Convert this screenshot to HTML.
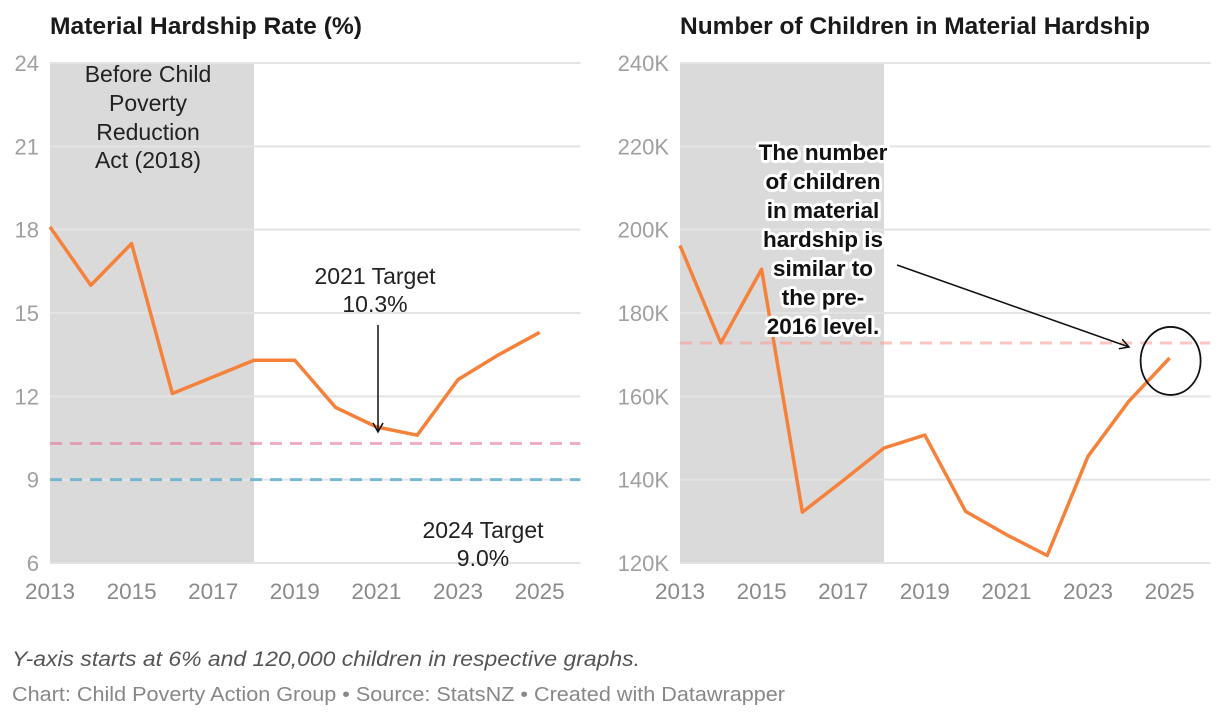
<!DOCTYPE html>
<html><head><meta charset="utf-8"><style>
body{margin:0;background:#fff;width:1220px;height:718px;overflow:hidden;font-family:"Liberation Sans",Arial,sans-serif}
svg text{font-family:"Liberation Sans",Arial,sans-serif}
</style></head><body>
<svg id="c" width="1220" height="718">
<text x="50" y="34" font-size="24" font-weight="bold" fill="#1a1a1a" textLength="312" lengthAdjust="spacingAndGlyphs">Material Hardship Rate (%)</text>
<text x="680" y="34" font-size="24" font-weight="bold" fill="#1a1a1a" textLength="470" lengthAdjust="spacingAndGlyphs">Number of Children in Material Hardship</text>
<text x="12" y="666" font-size="21" font-style="italic" fill="#555" textLength="628" lengthAdjust="spacingAndGlyphs">Y-axis starts at 6% and 120,000 children in respective graphs.</text>
<text x="12" y="701" font-size="20" fill="#888" textLength="773" lengthAdjust="spacingAndGlyphs">Chart: Child Poverty Action Group • Source: StatsNZ • Created with Datawrapper</text>
</svg>
<script>
const years=[2013,2014,2015,2016,2017,2018,2019,2020,2021,2022,2023,2024,2025];
const rateValues=[18.1,16.0,17.5,12.1,12.7,13.3,13.3,11.6,10.9,10.6,12.6,13.5,14.3];
const childValues=[196.2,172.8,190.5,132.2,139.8,147.6,150.7,132.4,126.8,121.8,145.6,158.8,169.2];
const rateTicks=[6,9,12,15,18,21,24];
const childTicks=[120,140,160,180,200,220,240];
const xTicks=[2013,2015,2017,2019,2021,2023,2025];
const target2021=[10.3];
const target2024=[9.0];
const pre2016Level=[172.8];

const svg=document.getElementById('c');
const NS='http://www.w3.org/2000/svg';
function mk(tag,attrs,txt){const e=document.createElementNS(NS,tag);for(const k in attrs)e.setAttribute(k,attrs[k]);if(txt!==undefined)e.textContent=txt;svg.appendChild(e);return e;}
function panel(x0,ymin,ymax,ticks,fmt,vals,pre){
  const xs=y=>x0+(y-2013)*40.8;
  const ys=v=>563-(v-ymin)/(ymax-ymin)*500;
  let e=mk('rect',{x:x0,y:63,width:xs(2018)-x0,height:500,fill:'#dadada'});
  
  
  ticks.forEach(t=>{
    let g=mk('line',{x1:x0,x2:xs(2026),y1:ys(t),y2:ys(t),stroke:'#e3e3e3','stroke-width':2});
    
    
    let l=mk('text',{x:x0-11,y:ys(t)+8,'text-anchor':'end','font-size':22,fill:'#a0a0a0'},fmt(t));
    
    
  });
  xTicks.forEach(t=>{
    let l=mk('text',{x:xs(t),y:599,'text-anchor':'middle','font-size':22.5,fill:'#8a8a8a'},String(t));
    
    
  });
  return {xs,ys};
}
function line(sc,vals,pre){
  const p=mk('polyline',{points:years.map((y,i)=>sc.xs(y)+','+sc.ys(vals[i])).join(' '),fill:'none',stroke:'#f5813b','stroke-width':3.5,'stroke-linejoin':'round'});
  
  
}
function hline(sc,x0,v,col,name){
  const l=mk('line',{x1:x0,x2:sc.xs(2026),y1:sc.ys(v),y2:sc.ys(v),stroke:col,'stroke-width':3,'stroke-dasharray':'12 8'});
  
  
}
mk('defs',{}).innerHTML='<marker id="ah" markerWidth="12" markerHeight="12" refX="10" refY="6" orient="auto" markerUnits="userSpaceOnUse"><path d="M1,1 L10,6 L1,11" fill="none" stroke="#111" stroke-width="1.5"/></marker>';

// left
const L=panel(50,6,24,rateTicks,t=>String(t),rateValues,'left');
hline(L,50,target2021[0],'rgba(230,120,160,0.6)','target-2021-line');
hline(L,50,target2024[0],'rgba(80,170,200,0.75)','target-2024-line');
line(L,rateValues,'left');
[['Before Child',82],['Poverty',111],['Reduction',140],['Act (2018)',168]].forEach(a=>{
  const t=mk('text',{x:148,y:a[1],'text-anchor':'middle','font-size':23,fill:'#222'},a[0]);
  
  
});
[['2021 Target',284],['10.3%',312]].forEach(a=>{
  const t=mk('text',{x:375,y:a[1],'text-anchor':'middle','font-size':23,fill:'#222'},a[0]);
  
  
});
[['2024 Target',538],['9.0%',566]].forEach(a=>{
  const t=mk('text',{x:483,y:a[1],'text-anchor':'middle','font-size':23,fill:'#222'},a[0]);
  
  
});
let ar=mk('line',{x1:378,y1:325,x2:378,y2:432,stroke:'#111','stroke-width':1.5,'marker-end':'url(#ah)'});



// right
const R=panel(680,120,240,childTicks,t=>t+'K',childValues,'right');
hline(R,680,pre2016Level[0],'rgba(245,160,150,0.6)','pre-2016-level-line');
line(R,childValues,'right');
['The number','of children','in material','hardship is','similar to','the pre-','2016 level.'].forEach((s,i)=>{
  const t=mk('text',{x:823,y:160+i*29,'text-anchor':'middle','font-size':22.5,'font-weight':'bold',fill:'#111',stroke:'#fff','stroke-width':6,'paint-order':'stroke','stroke-linejoin':'round'},s);
  
  
});
let ar2=mk('line',{x1:897,y1:265,x2:1129,y2:347,stroke:'#111','stroke-width':1.5,'marker-end':'url(#ah)'});


let ci=mk('ellipse',{cx:R.xs(2025)+1,cy:R.ys(168.5),rx:30,ry:34,fill:'none',stroke:'#111','stroke-width':1.8});


</script>
</body></html>
